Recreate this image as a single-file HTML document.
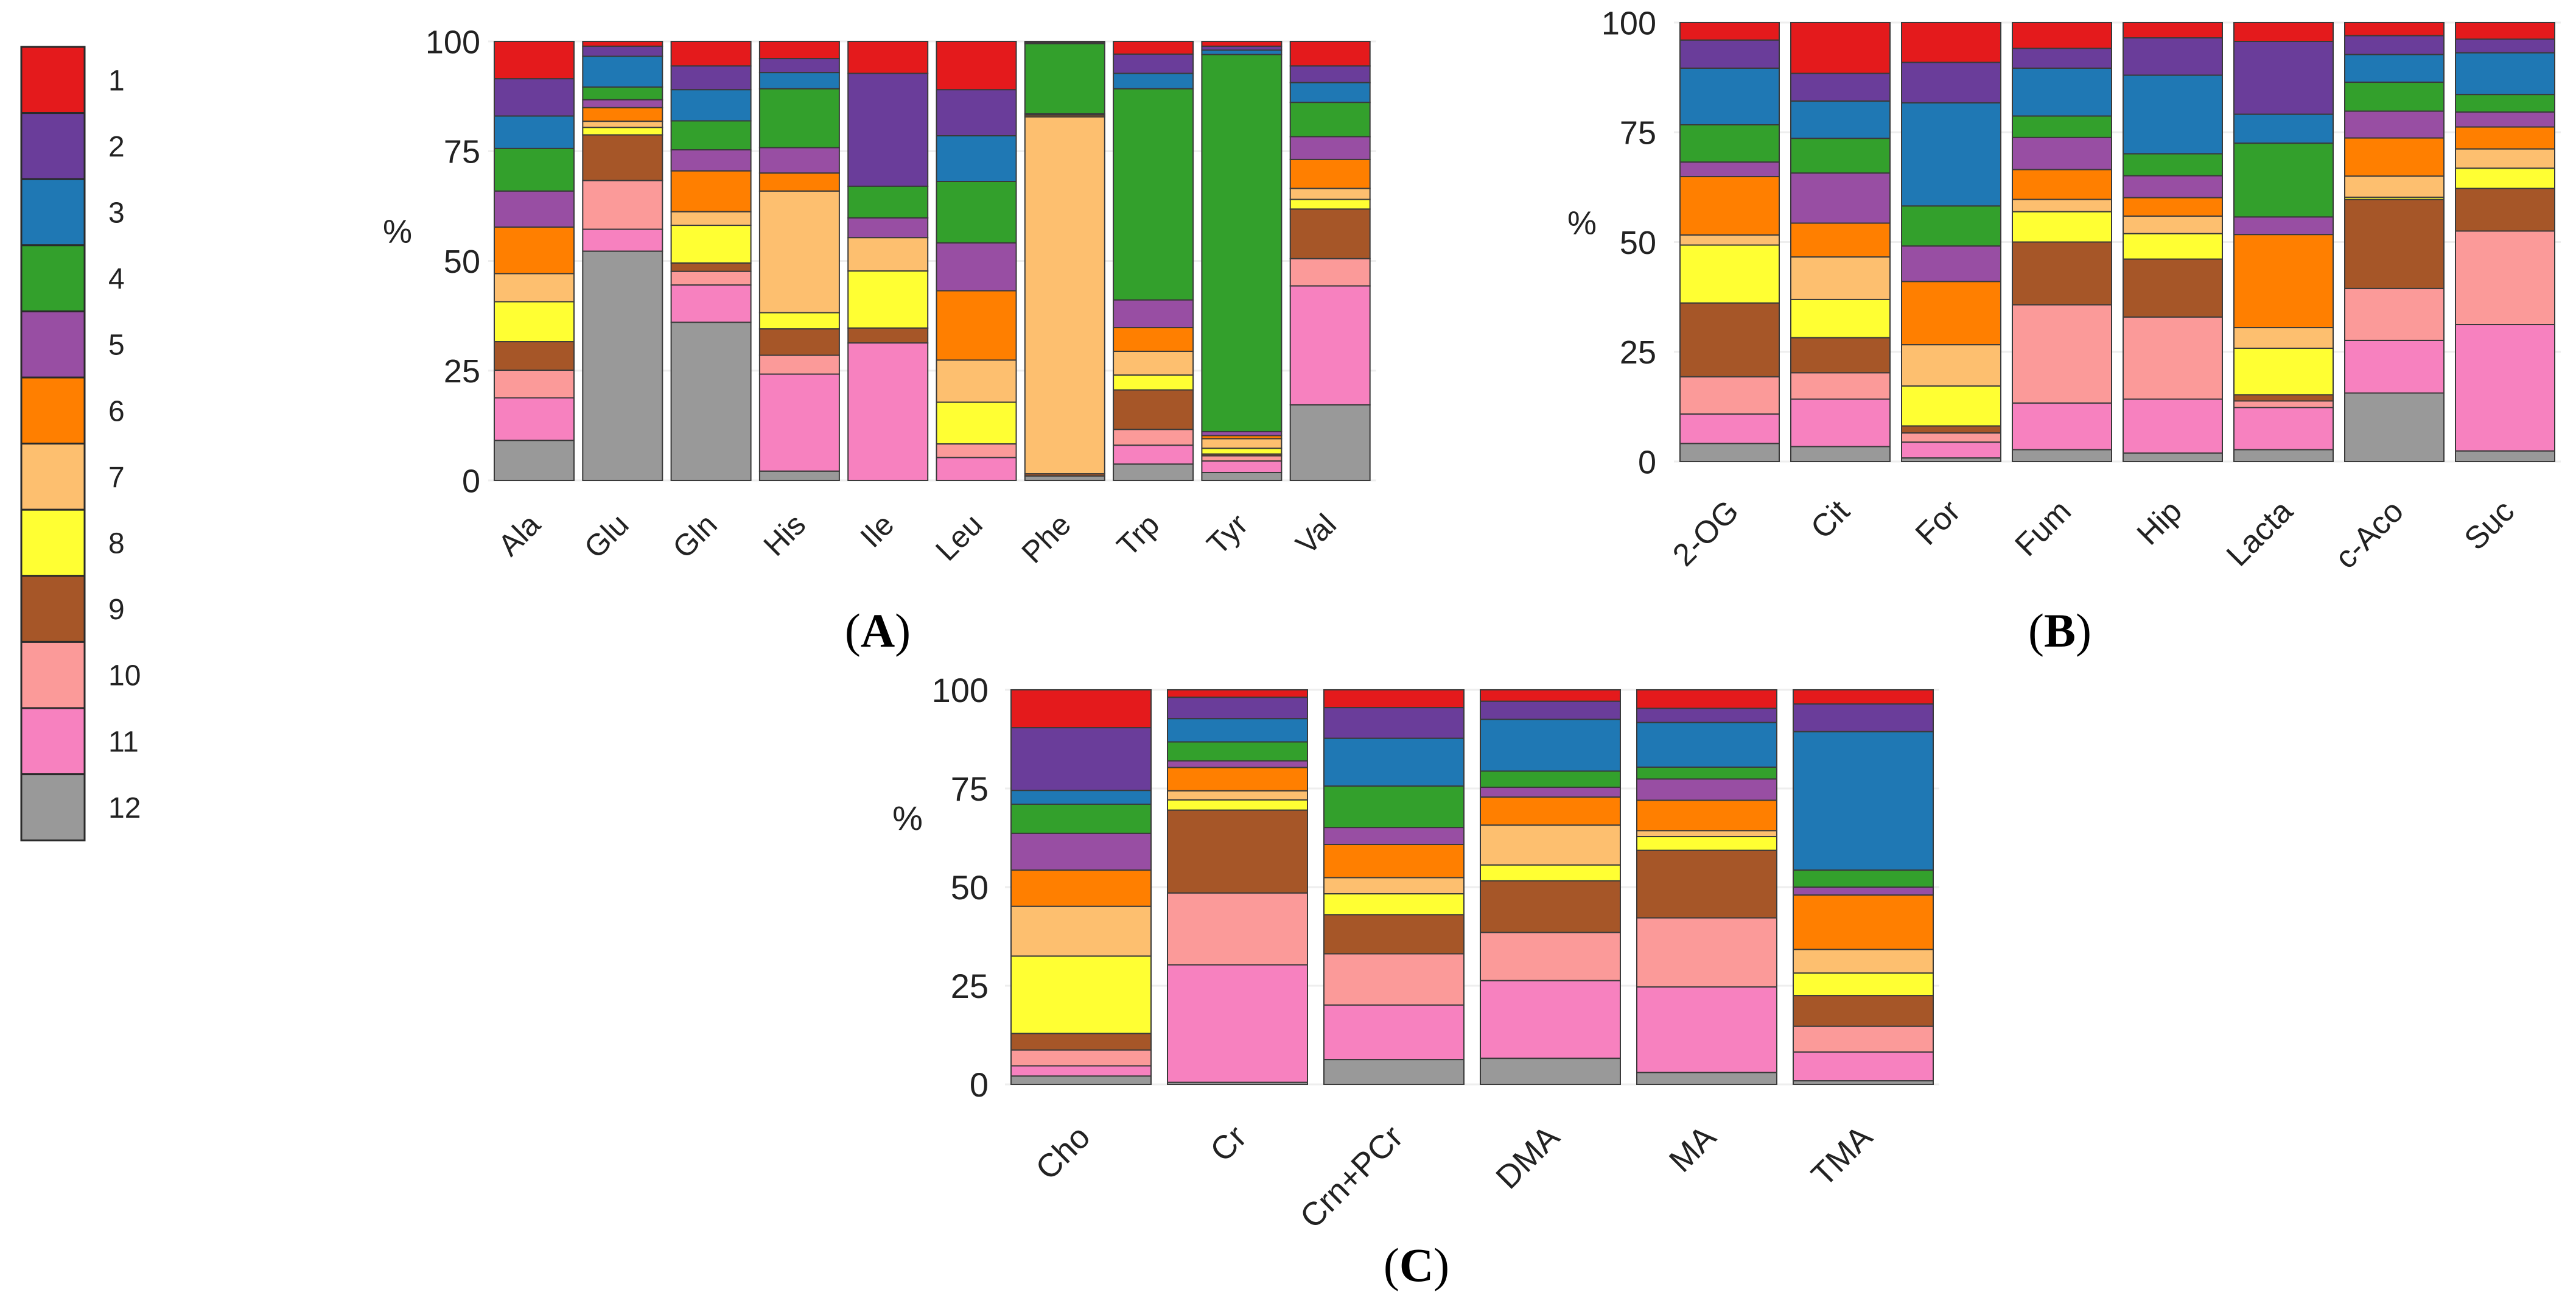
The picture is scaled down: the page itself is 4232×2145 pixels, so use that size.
<!DOCTYPE html>
<html><head><meta charset="utf-8"><style>
html,body{margin:0;padding:0;background:#fff;}
svg{display:block;}
text{font-family:"Liberation Sans",sans-serif;fill:#222;}
.cap{font-family:"Liberation Serif",serif;fill:#000;}
</style></head><body>
<svg id="chart" width="4232" height="2145" viewBox="0 0 4232 2145" xmlns="http://www.w3.org/2000/svg">
<g id="legend"></g>
<g id="pA"></g>
<g id="pB"></g>
<g id="pC"></g>
</svg>
<script>
const clusters = ["1","2","3","4","5","6","7","8","9","10","11","12"];
const colors = ["#e41a1c","#6a3d9a","#1f78b4","#33a02c","#984ea3","#ff7f00","#fdbf6f","#ffff33","#a65628","#fb9a99","#f781bf","#999999"];
const ticks = [0,25,50,75,100];

const catsA = ["Ala","Glu","Gln","His","Ile","Leu","Phe","Trp","Tyr","Val"];
const valsA = [
 [8.5,8.5,7.4,9.7,8.2,10.6,6.4,9.1,6.5,6.3,9.7,9.1],
 [1.1,2.3,7.0,2.9,1.8,3.1,1.4,1.7,10.4,11.1,5.0,52.2],
 [5.6,5.4,7.1,6.6,4.8,9.3,3.1,8.6,1.9,3.1,8.5,36.0],
 [3.9,3.2,3.7,13.4,5.8,4.1,27.7,3.7,6.0,4.3,22.1,2.1],
 [7.3,25.7,0,7.2,4.5,0,7.6,13.0,3.4,0,31.3,0],
 [11.0,10.5,10.4,14.0,10.9,15.8,9.6,9.5,0,3.1,5.2,0],
 [0.3,0.2,0,16.0,0.3,0.4,81.3,0,0.5,0,0,1.0],
 [2.9,4.4,3.5,48.1,6.3,5.4,5.4,3.4,9.0,3.6,4.3,3.7],
 [1.1,0.9,1.0,85.9,0.9,0.7,2.2,1.3,0.4,1.2,2.6,1.8],
 [5.6,3.8,4.5,7.8,5.2,6.6,2.5,2.2,11.3,6.2,27.1,17.2]
];
const catsB = ["2-OG","Cit","For","Fum","Hip","Lacta","c-Aco","Suc"];
const valsB = [
 [4.0,6.4,12.9,8.5,3.3,13.3,2.3,13.2,16.8,8.5,6.7,4.1],
 [11.6,6.3,8.5,7.9,11.4,7.7,9.7,8.7,8.0,6.0,10.8,3.4],
 [9.1,9.2,23.5,9.1,8.1,14.4,9.4,9.1,1.6,2.1,3.6,0.8],
 [5.9,4.5,10.9,4.9,7.3,6.8,2.8,6.9,14.3,22.4,10.6,2.7],
 [3.5,8.5,17.9,5.0,5.0,4.2,4.0,5.8,13.2,18.7,12.3,1.9],
 [4.3,16.6,6.6,16.8,4.0,21.2,4.7,10.6,1.4,1.5,9.6,2.7],
 [3.0,4.3,6.3,6.6,6.1,8.7,4.8,0.5,20.3,11.8,12.0,15.6],
 [3.8,3.1,9.5,4.0,3.4,5.0,4.4,4.6,9.7,21.3,28.8,2.4]
];
const catsC = ["Cho","Cr","Crn+PCr","DMA","MA","TMA"];
const valsC = [
 [9.6,15.9,3.5,7.4,9.3,9.2,12.6,19.6,4.2,4.0,2.6,2.1],
 [1.9,5.4,5.9,4.8,1.7,5.9,2.3,2.6,21.0,18.2,29.8,0.5],
 [4.5,7.8,12.1,10.5,4.3,8.4,4.1,5.3,9.9,13.0,13.8,6.3],
 [2.9,4.6,13.1,4.1,2.5,7.1,10.1,4.0,13.1,12.2,19.7,6.6],
 [4.7,3.6,11.3,3.0,5.4,7.7,1.5,3.5,17.1,17.5,21.7,3.0],
 [3.6,7.0,35.1,4.3,2.0,13.8,6.0,5.7,7.8,6.5,7.3,0.9]
];

const NS="http://www.w3.org/2000/svg";
function mk(tag, attrs, parent){
  const e=document.createElementNS(NS,tag);
  for(const k in attrs) e.setAttribute(k,attrs[k]);
  parent.appendChild(e); return e;
}

function panel(gid, cats, vals, cfg){
  const g=document.getElementById(gid);
  const y=v=>cfg.bottom-(cfg.bottom-cfg.top)*v/100;
  const xL=i=>cfg.left+i*cfg.pitch;
  const right=xL(cats.length-1)+cfg.w;
  ticks.forEach(t=>{
    const l=mk('line',{x1:cfg.left-10,x2:right+10,y1:y(t),y2:y(t),stroke:'#eeeeee','stroke-width':3},g);
    
    
    const tx=mk('text',{x:cfg.tickRight,y:y(t)+cfg.fs*0.36,'text-anchor':'end','font-size':cfg.fs},g);
    tx.textContent=t;
    
    
  });
  const pct=mk('text',{x:cfg.pctX,y:cfg.pctY+cfg.fs*0.36,'text-anchor':'middle','font-size':cfg.fs},g);
  pct.textContent='%';
  
  
  cats.forEach((c,i)=>{
    let cum=100;
    vals[i].forEach((v,k)=>{
      if(v<=0) return;
      const r=mk('rect',{x:xL(i),y:y(cum),width:cfg.w,height:y(cum-v)-y(cum),fill:colors[k],stroke:'#3a3a3a','stroke-width':2},g);
      
      
      cum-=v;
    });
    const cx=xL(i)+cfg.w/2;
    const lx=cx+cfg.lab, ly=cfg.bottom+cfg.labDy;
    const t=mk('text',{x:lx,y:ly,'text-anchor':'end','font-size':cfg.lfs,transform:`rotate(-45 ${lx} ${ly})`},g);
    t.textContent=c;
    
    
  });
  const cap=mk('text',{x:cfg.capX,y:cfg.capY+27,'text-anchor':'middle','font-size':78,class:'cap'},g);
  cap.innerHTML='(<tspan font-weight="bold">'+cfg.cap+'</tspan>)';
  
  
}

panel('pA',catsA,valsA,{left:812,pitch:145.3,w:131,top:68,bottom:789,tickRight:789,fs:54,lfs:50,pctX:653,pctY:379,lab:13,labDy:76,capX:1442,capY:1035,cap:'A'});
panel('pB',catsB,valsB,{left:2760,pitch:182,w:163,top:37,bottom:758,tickRight:2721,fs:54,lfs:52,pctX:2599,pctY:365,lab:18,labDy:85,capX:3384,capY:1035,cap:'B'});
panel('pC',catsC,valsC,{left:1661,pitch:257,w:230,top:1133,bottom:1781,tickRight:1624,fs:56,lfs:54,pctX:1491,pctY:1343,lab:18,labDy:90,capX:2327,capY:2077,cap:'C'});

const lg=document.getElementById('legend');
const lTop=77, lH=108.6;
clusters.forEach((c,k)=>{
  const r=mk('rect',{x:35,y:lTop+k*lH,width:104,height:lH,fill:colors[k],stroke:'#2a2a2a','stroke-width':3},lg);
  
  
  const t=mk('text',{x:178,y:lTop+k*lH+lH/2+17,'font-size':48},lg);
  t.textContent=c;
  
  
});
</script>
</body></html>
